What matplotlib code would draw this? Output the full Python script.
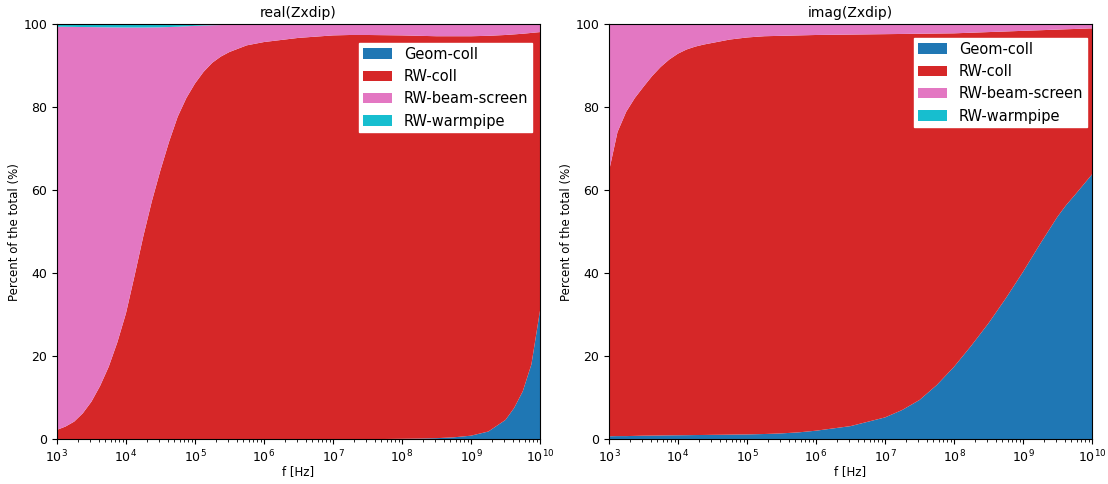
#!/usr/bin/env python3
import matplotlib
matplotlib.use("Agg")
import matplotlib.pyplot as plt

# --- Data: share of each impedance contribution (%) vs frequency ---
freq = [1.00e3, 1.33e3, 1.78e3, 2.37e3, 3.16e3, 4.22e3, 5.62e3, 7.50e3,
        1.00e4, 1.33e4, 1.78e4, 2.37e4, 3.16e4, 4.22e4, 5.62e4, 7.50e4,
        1.00e5, 1.33e5, 1.78e5, 2.37e5, 3.16e5, 5.62e5, 1.00e6, 3.16e6,
        1.00e7, 1.78e7, 3.16e7, 5.62e7, 1.00e8, 1.78e8, 3.16e8, 5.62e8,
        1.00e9, 1.78e9, 3.16e9, 4.22e9, 5.62e9, 7.50e9, 1.00e10]

labels = ["Geom-coll", "RW-coll", "RW-beam-screen", "RW-warmpipe"]
colors = ["#1f77b4", "#d62728", "#e377c2", "#17becf"]

# real part
geom_re = [0] * 28 + [0.05, 0.1, 0.2, 0.4, 0.8, 1.8, 4.6, 7.5, 11.5, 18.0, 31.0]
rwcoll_re = [2.2, 3.0, 4.2, 6.2, 9.0, 12.8, 17.4, 23.3, 30.3, 39.3, 48.8,
             57.3, 64.8, 71.7, 77.7, 82.2, 85.7, 88.5, 90.7, 92.2, 93.3,
             94.9, 95.7, 96.7, 97.3, 97.4, 97.4, 97.35, 97.25, 97.1, 96.9,
             96.7, 96.3, 95.4, 92.8, 90.05, 86.2, 79.9, 67.1]
screen_re = [97.2, 96.38, 95.15, 93.12, 90.3, 86.47, 81.84, 75.92, 68.9,
             59.9, 50.4, 41.92, 34.45, 27.62, 21.7, 17.3, 13.9, 11.18, 9.05,
             7.6, 6.55, 5.0, 4.25, 3.25, 2.65, 2.55, 2.55, 2.6, 2.65, 2.75,
             2.85, 2.85, 2.85, 2.75, 2.55, 2.4, 2.25, 2.05, 1.85]
warm_re = [0.6, 0.62, 0.65, 0.68, 0.7, 0.73, 0.76, 0.78, 0.8, 0.8, 0.8,
           0.78, 0.75, 0.68, 0.6, 0.5, 0.4, 0.32, 0.25, 0.2, 0.15, 0.1] \
          + [0.05] * 17

# imaginary part
geom_im = [0.65, 0.7, 0.7, 0.75, 0.8, 0.82, 0.85, 0.88, 0.9, 0.92, 0.95,
           0.97, 1.0, 1.02, 1.05, 1.08, 1.1, 1.15, 1.2, 1.27, 1.35, 1.6,
           2.0, 3.1, 5.2, 7.0, 9.4, 13.0, 17.4, 22.5, 27.9, 33.9, 40.3,
           47.1, 53.6, 56.4, 58.8, 61.3, 63.8]
rwcoll_im = [63.85, 73.3, 78.2, 81.45, 84.1, 86.68, 88.85, 90.62, 92.0,
             92.98, 93.65, 94.13, 94.5, 94.88, 95.25, 95.47, 95.7, 95.8,
             95.9, 95.88, 95.85, 95.7, 95.4, 94.4, 92.4, 90.65, 88.3, 84.75,
             80.4, 75.45, 70.2, 64.35, 58.1, 51.45, 45.1, 42.38, 40.05,
             37.63, 35.2]
screen_im = [35.4, 25.9, 21.0, 17.7, 15.0, 12.4, 10.2, 8.4, 7.0, 6.0, 5.3,
             4.8, 4.4, 4.0, 3.6, 3.35, 3.1, 2.95, 2.8, 2.75, 2.7, 2.6, 2.5,
             2.4, 2.3, 2.25, 2.2, 2.15, 2.1, 1.95, 1.8, 1.65, 1.5, 1.35, 1.2,
             1.12, 1.05, 0.97, 0.9]
warm_im = [0.1] * len(freq)

# --- Plot ---
fig = plt.figure(figsize=(11.08, 4.84), dpi=100)
ax1 = fig.add_axes([0.0514, 0.093, 0.436, 0.857])
ax2 = fig.add_axes([0.5496, 0.093, 0.436, 0.857])

panels = [
    (ax1, "real(Zxdip)", [geom_re, rwcoll_re, screen_re, warm_re], (532, 43)),
    (ax2, "imag(Zxdip)", [geom_im, rwcoll_im, screen_im, warm_im], (1087, 38)),
]

for ax, title, series, (lx, ly) in panels:
    ax.stackplot(freq, *series, labels=labels, colors=colors)
    ax.set_xscale("log")
    ax.set_xlim(1e3, 1e10)
    ax.set_ylim(0, 100)
    ax.set_title(title, fontsize=10, pad=5)
    ax.set_xlabel("f [Hz]", fontsize=8.5, labelpad=0)
    ax.set_ylabel("Percent of the total (%)", fontsize=8.5, labelpad=1.5)
    ax.tick_params(labelsize=9)
    ax.legend(loc="upper right", fontsize=10.5, fancybox=False, framealpha=1,
              edgecolor="white", borderaxespad=0, borderpad=0.25,
              bbox_to_anchor=(lx / 1108, 1 - ly / 484),
              bbox_transform=fig.transFigure)

fig.savefig("out.png", dpi=100)
